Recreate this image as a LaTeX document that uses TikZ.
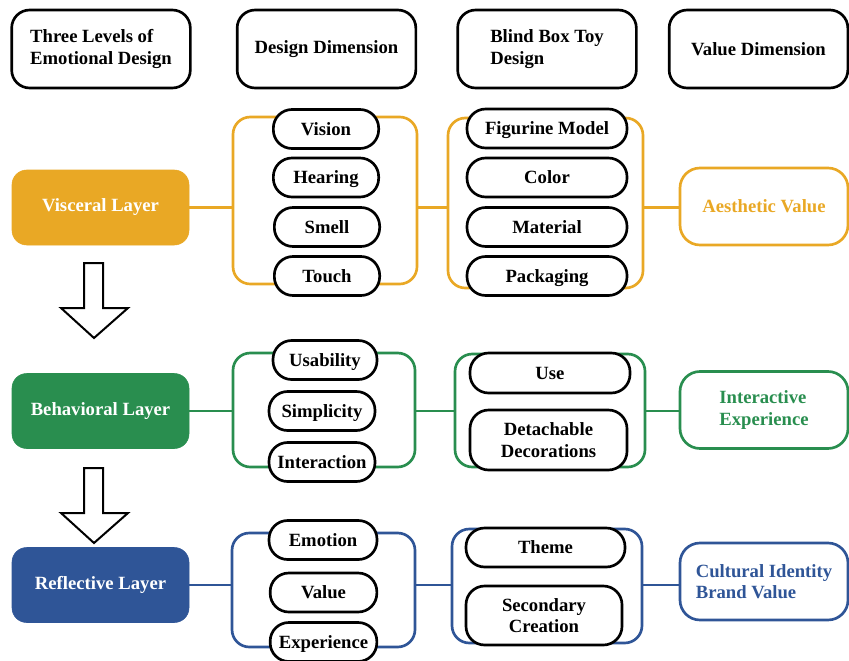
\documentclass[tikz,border=0pt]{standalone}
\usepackage{fontspec}
\setmainfont{Liberation Serif}
\usepackage{tikz}
\definecolor{viscol}{RGB}{233,168,37}
\definecolor{behcol}{RGB}{41,142,79}
\definecolor{refcol}{RGB}{47,85,151}

\begin{document}
\begin{tikzpicture}[x=0.75pt,y=-0.75pt,
        every node/.style={font=\fontsize{14}{16}\selectfont\bfseries},
        head/.style={draw=black,line width=2pt,rounded corners=13.5pt,minimum width=134pt,minimum height=58.5pt,align=left},
        layer/.style={fill=#1,draw=#1,rounded corners=11pt,minimum width=132.75pt,minimum height=56.25pt,text=white},
        frame/.style={draw=#1,line width=2pt,rounded corners=13pt,inner sep=0pt},
        pillbox/.style={draw=black,fill=white,line width=2pt,rounded corners=14pt,minimum height=29.25pt,inner sep=1pt,align=center},
        pill/.style={pillbox,text height=11pt,text depth=2pt},
        value/.style={draw=#1,line width=2pt,rounded corners=15pt,minimum width=126pt,minimum height=57.75pt,text=#1,align=left},
        link/.style={draw=#1,line width=2pt},
        blockarrow/.style={draw=black,line width=1.5pt,fill=white}]
        \useasboundingbox (0,0) rectangle (849,660);

        \node[head] (hLevel) at (101,49) {Three Levels of\\Emotional Design};
        \node[head] (hDesign) at (326.5,49) {Design Dimension};
        \node[head] (hToy) at (547,49) {Blind Box Toy\\Design};
        \node[head] (hValue) at (758.5,49) {Value Dimension};

        \node[layer=viscol] (vis) at (100.5,207.5) {Visceral Layer};
        \node[layer=behcol] (beh) at (100.5,411) {Behavioral Layer};
        \node[layer=refcol] (ref) at (100.5,585) {Reflective Layer};

        \draw[blockarrow] (84,263) -- (103,263) -- (103,308) -- (128,308) -- (94,338) -- (61,308) -- (84,308) -- cycle;
        \draw[blockarrow] (84,468) -- (103,468) -- (103,513) -- (128,513) -- (94,543) -- (61,513) -- (84,513) -- cycle;

        \node[frame=viscol,minimum width=138pt,minimum height=125.25pt] (visD) at (325,200.5) {};
        \node[frame=viscol,minimum width=146.25pt,minimum height=127.5pt] (visT) at (545.5,203) {};
        \node[value=viscol,align=center] (visV) at (764,206.5) {Aesthetic Value};

        \node[pill,minimum width=79pt] (vision) at (326,129) {Vision};
        \node[pill,minimum width=79pt] (hearing) at (326,177.5) {Hearing};
        \node[pill,minimum width=79pt] (smell) at (327,227) {Smell};
        \node[pill,minimum width=79pt] (touch) at (327,276) {Touch};
        \node[pill,minimum width=120pt] (figurine) at (547,128.5) {Figurine Model};
        \node[pill,minimum width=120pt] (color) at (547,177.5) {Color};
        \node[pill,minimum width=120pt] (material) at (547,227) {Material};
        \node[pill,minimum width=120pt] (packaging) at (547,276) {Packaging};

        \path [link=viscol](vis.east) edge (vis.east -| visD.west);
        \path [link=viscol](vis.east -| visD.east) edge (vis.east -| visT.west);
        \path [link=viscol](vis.east -| visT.east) edge (vis.east -| visV.west);

        \node[frame=behcol,minimum width=136.5pt,minimum height=85.5pt] (behD) at (324,410) {};
        \node[frame=behcol,minimum width=142.5pt,minimum height=84.75pt] (behT) at (550,410.5) {};
        \node[value=behcol] (behV) at (764,410) {Interactive\\Experience};

        \node[pill,minimum width=78pt] (usability) at (325,360) {Usability};
        \node[pill,minimum width=79.5pt] (simplicity) at (322,411) {Simplicity};
        \node[pill,minimum width=79.5pt] (interaction) at (322,462) {Interaction};
        \node[pill,minimum width=120pt,minimum height=30pt] (use) at (550,373) {Use};
        \node[pillbox,minimum width=117.75pt,minimum height=45pt] (detach) at (548.5,440) {Detachable\\Decorations};

        \path [link=behcol](beh.east) edge (beh.east -| behD.west);
        \path [link=behcol](beh.east -| behD.east) edge (beh.east -| behT.west);
        \path [link=behcol](beh.east -| behT.east) edge (beh.east -| behV.west);

        \node[frame=refcol,minimum width=137.25pt,minimum height=85.5pt] (refD) at (323.5,590) {};
        \node[frame=refcol,minimum width=142.5pt,minimum height=85.5pt] (refT) at (547,586) {};
        \node[value=refcol] (refV) at (764,581.5) {Cultural Identity\\Brand Value};

        \node[pill,minimum width=81pt] (emotion) at (323,540) {Emotion};
        \node[pill,minimum width=80pt] (valueP) at (323.5,592.5) {Value};
        \node[pill,minimum width=80pt] (experience) at (323.5,642) {Experience};
        \node[pill,minimum width=119.25pt] (theme) at (545.5,547.5) {Theme};
        \node[pillbox,minimum width=117pt,minimum height=44.25pt] (secondary) at (544,615.5) {Secondary\\Creation};

        \path [link=refcol](ref.east) edge (ref.east -| refD.west);
        \path [link=refcol](ref.east -| refD.east) edge (ref.east -| refT.west);
        \path [link=refcol](ref.east -| refT.east) edge (ref.east -| refV.west);
    \end{tikzpicture}
\end{document}
